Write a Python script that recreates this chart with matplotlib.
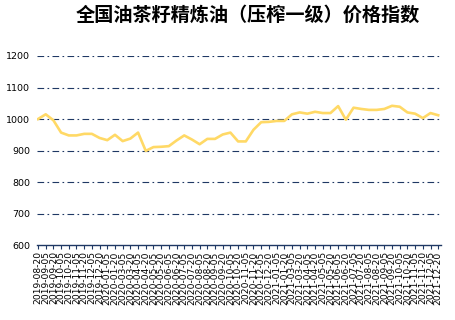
import matplotlib as mpl
mpl.use('Agg')
import matplotlib.pyplot as plt

# semi-monthly dates, a few around Spring Festival have no quote
dates = []
for y in (2019, 2020, 2021):
    for m in range(1, 13):
        for d in ('05', '20'):
            dates.append('{}-{:02d}-{}'.format(y, m, d))
dates = [s for s in dates if '2019-08-20' <= s <= '2021-12-20']
missing = ['2020-02-05', '2020-02-20', '2021-02-05', '2021-02-20']
dates = [s for s in dates if s not in missing]

values = [1000, 1015, 996, 957, 948, 948, 953, 953, 940, 933,
          950, 930, 938, 957, 899, 911, 912, 914, 932, 948,
          935, 920, 937, 937, 951, 957, 929, 929, 966, 990,
          991, 994, 994, 1015, 1021, 1017, 1023, 1019, 1019, 1041,
          998, 1036, 1032, 1029, 1029, 1032, 1042, 1039, 1021, 1017,
          1003, 1019, 1012]

yticks = [600, 700, 800, 900, 1000, 1100, 1200]
title = '全国油茶籽精炼油（压榨一级）价格指数'

navy = '#1F3864'

fig = plt.figure(figsize=(4.55, 3.2), dpi=100)
ax = fig.add_axes([0.081, 0.234, 0.888, 0.591])

x = list(range(len(values)))
ax.plot(x, values, color='#FFD966', linewidth=1.9, solid_joinstyle='round', zorder=3)

ax.set_ylim(600, 1200)
ax.set_xlim(-0.15, len(values) - 1 + 0.35)
ax.set_yticks(yticks)
ax.set_yticklabels([str(v) for v in yticks], fontsize=6.8, family='DejaVu Sans')
ax.tick_params(axis='y', length=0, pad=5)

ax.set_xticks(x)
ax.set_xticklabels(dates, rotation=90, fontsize=6.6, family='DejaVu Sans')
ax.tick_params(axis='x', length=3, width=0.8, color=navy, pad=1.5)

for v in yticks[1:]:
    ax.axhline(v, color=navy, linewidth=0.8, linestyle=(0, (6, 3, 1.5, 3)), zorder=1)

for side in ('left', 'right', 'top'):
    ax.spines[side].set_visible(False)
ax.spines['bottom'].set_color(navy)
ax.spines['bottom'].set_linewidth(1.0)

fig.text(0.545, 0.952, title, ha='center', va='center', fontsize=13.8,
         fontweight='bold', family=['Noto Sans CJK SC', 'DejaVu Sans'])

fig.savefig('out.png', dpi=100)
plt.close('all')
